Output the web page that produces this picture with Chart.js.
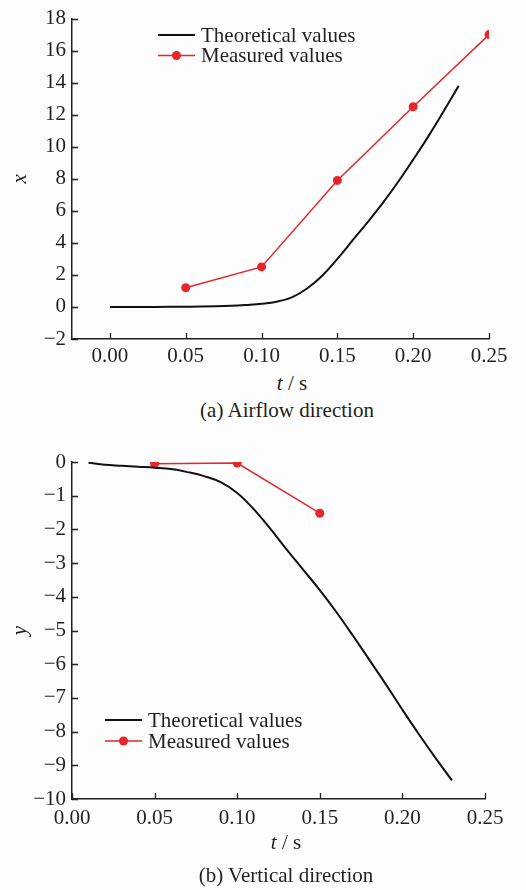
<!DOCTYPE html>
<html>
<head>
<meta charset="utf-8">
<script src="https://cdn.jsdelivr.net/npm/chart.js@4/dist/chart.umd.min.js"></script>
<style>
  html, body { margin: 0; padding: 0; background: #fdfdfd; }
  body { width: 526px; height: 890px; position: relative; font-family: "Liberation Serif", serif; color: #231f20; }
  canvas { position: absolute; left: 0; }
  .lbl { position: absolute; font-size: 21px; white-space: nowrap; transform: translate(-50%, -50%); }
</style>
</head>
<body>
<canvas id="chartA" width="526" height="370" style="top:0"></canvas>
<canvas id="chartB" width="526" height="390" style="top:440px"></canvas>
<div class="lbl" style="left:292px;top:383px"><i>t</i> / s</div>
<div class="lbl" style="left:287px;top:410px">(a) Airflow direction</div>
<div class="lbl" style="left:286px;top:842px"><i>t</i> / s</div>
<div class="lbl" style="left:286px;top:875px">(b) Vertical direction</div>
<script>
// ── data: (a) airflow direction ─────────────────────────
const theoA_t = [0, 0.02, 0.04, 0.06, 0.08, 0.09, 0.10, 0.11, 0.12, 0.13, 0.14, 0.15, 0.16, 0.17, 0.18, 0.19, 0.20, 0.21, 0.22, 0.23];
const theoA_x = [0, 0, 0.01, 0.03, 0.08, 0.13, 0.2, 0.33, 0.6, 1.15, 1.95, 3.0, 4.15, 5.3, 6.5, 7.8, 9.2, 10.65, 12.2, 13.8];
const measA_t = [0.05, 0.10, 0.15, 0.20, 0.25];
const measA_x = [1.2, 2.5, 7.9, 12.5, 17.0];

// ── data: (b) vertical direction ────────────────────────
const theoB_t = [0.01, 0.02, 0.03, 0.04, 0.05, 0.06, 0.07, 0.08, 0.09, 0.10, 0.11, 0.12, 0.13, 0.14, 0.15, 0.16, 0.17, 0.18, 0.19, 0.20, 0.21, 0.22, 0.23];
const theoB_y = [-0.02, -0.08, -0.11, -0.14, -0.17, -0.21, -0.3, -0.42, -0.6, -0.92, -1.4, -1.98, -2.6, -3.2, -3.8, -4.45, -5.15, -5.87, -6.6, -7.35, -8.08, -8.78, -9.45];
const measB_t = [0.05, 0.10, 0.15];
const measB_y = [-0.05, -0.03, -1.52];

// ── tick labels ─────────────────────────────────────────
const tTicks = [0, 0.05, 0.10, 0.15, 0.20, 0.25];
const xTicksA = [-2, 0, 2, 4, 6, 8, 10, 12, 14, 16, 18];
const yTicksB = [0, -1, -2, -3, -4, -5, -6, -7, -8, -9, -10];

const seriesNames = ['Theoretical values', 'Measured values'];

const INK = '#231f20';
const RED = '#e5262b';
const FONT = { family: 'Liberation Serif', size: 21 };

const pairs = (a, b) => a.map((v, i) => ({ x: v, y: b[i] }));
const minus = (v) => String(v).replace('-', '\u2212');

// Legend drawn inside the plot area
const inLegend = {
    id: 'inLegend',
    afterDraw(chart, args, opts) {
        const ctx = chart.ctx;
        ctx.save();
        ctx.font = FONT.size + 'px ' + FONT.family;
        ctx.textBaseline = 'middle';
        chart.data.datasets.forEach(function (ds, i) {
            const y = opts.y + i * opts.gap;
            ctx.strokeStyle = ds.borderColor;
            ctx.lineWidth = ds.borderWidth;
            ctx.beginPath();
            ctx.moveTo(opts.x, y);
            ctx.lineTo(opts.x + 37, y);
            ctx.stroke();
            if (ds.pointRadius > 0) {
                ctx.fillStyle = ds.pointBackgroundColor;
                ctx.beginPath();
                ctx.arc(opts.x + 18.5, y, ds.pointRadius, 0, Math.PI * 2);
                ctx.fill();
            }
            ctx.fillStyle = INK;
            ctx.fillText(ds.label, opts.x + 43, y + 1);
        });
        ctx.restore();
    },
};

// Tick marks pointing into the plot
const innerTicks = {
    id: 'innerTicks',
    afterDraw(chart) {
        const ctx = chart.ctx;
        const { x, y } = chart.scales;
        ctx.save();
        ctx.strokeStyle = INK;
        ctx.lineWidth = 1.3;
        ctx.beginPath();
        x.ticks.forEach(function (t) {
            const px = Math.round(x.getPixelForValue(t.value)) + 0.5;
            ctx.moveTo(px, x.top);
            ctx.lineTo(px, x.top - 6);
        });
        y.ticks.forEach(function (t) {
            const py = Math.round(y.getPixelForValue(t.value)) + 0.5;
            ctx.moveTo(y.right, py);
            ctx.lineTo(y.right + 6, py);
        });
        ctx.stroke();
        ctx.restore();
    },
};

function makeChart(id, cfg) {
    return new Chart(document.getElementById(id), {
        type: 'line',
        data: {
            datasets: [{
                label: seriesNames[0],
                data: cfg.theo,
                borderColor: '#111111',
                borderWidth: 2,
                pointRadius: 0,
                tension: 0.4,
            }, {
                label: seriesNames[1],
                data: cfg.meas,
                borderColor: RED,
                borderWidth: 1.5,
                pointRadius: 4.5,
                pointBackgroundColor: RED,
                pointBorderWidth: 0,
            }],
        },
        options: {
            responsive: false,
            animation: false,
            layout: { padding: cfg.padding },
            plugins: {
                legend: { display: false },
                tooltip: { enabled: false },
                inLegend: cfg.legend,
            },
            scales: {
                x: {
                    type: 'linear',
                    min: cfg.tMin,
                    max: 0.25,
                    afterBuildTicks: (s) => { s.ticks = tTicks.map((v) => ({ value: v })); },
                    afterFit: (s) => { s.height = cfg.xHeight; },
                    grid: { drawOnChartArea: false, drawTicks: false },
                    border: { display: true, color: INK, width: 1.5 },
                    ticks: { font: FONT, color: INK, padding: cfg.xPad, maxRotation: 0, callback: (v) => v.toFixed(2) },
                },
                y: {
                    min: cfg.yMin,
                    max: cfg.yMax,
                    afterBuildTicks: (s) => { s.ticks = cfg.yTicks.map((v) => ({ value: v })); },
                    afterFit: (s) => { s.width = 72; },
                    grid: { drawOnChartArea: false, drawTicks: false },
                    border: { display: true, color: INK, width: 1.5 },
                    ticks: { font: FONT, color: INK, padding: 6, callback: (v) => minus(v) },
                    title: { display: true, text: cfg.yTitle, color: INK, font: { family: FONT.family, size: 21, style: 'italic' }, padding: { top: 8, bottom: 0 } },
                },
            },
        },
        plugins: [inLegend, innerTicks],
    });
}

makeChart('chartA', {
    theo: pairs(theoA_t, theoA_x),
    meas: pairs(measA_t, measA_x),
    tMin: -0.025, yMin: -2, yMax: 18, yTicks: xTicksA, yTitle: 'x',
    padding: { left: 0, top: 16, right: 37, bottom: 0 },
    xHeight: 31, xPad: 5,
    legend: { x: 158, y: 35, gap: 20.5 },
});

makeChart('chartB', {
    theo: pairs(theoB_t, theoB_y),
    meas: pairs(measB_t, measB_y),
    tMin: 0, yMin: -10, yMax: 0, yTicks: yTicksB, yTitle: 'y',
    padding: { left: 0, top: 22, right: 41, bottom: 0 },
    xHeight: 31, xPad: 7,
    legend: { x: 105, y: 280, gap: 21 },
});
</script>
</body>
</html>
